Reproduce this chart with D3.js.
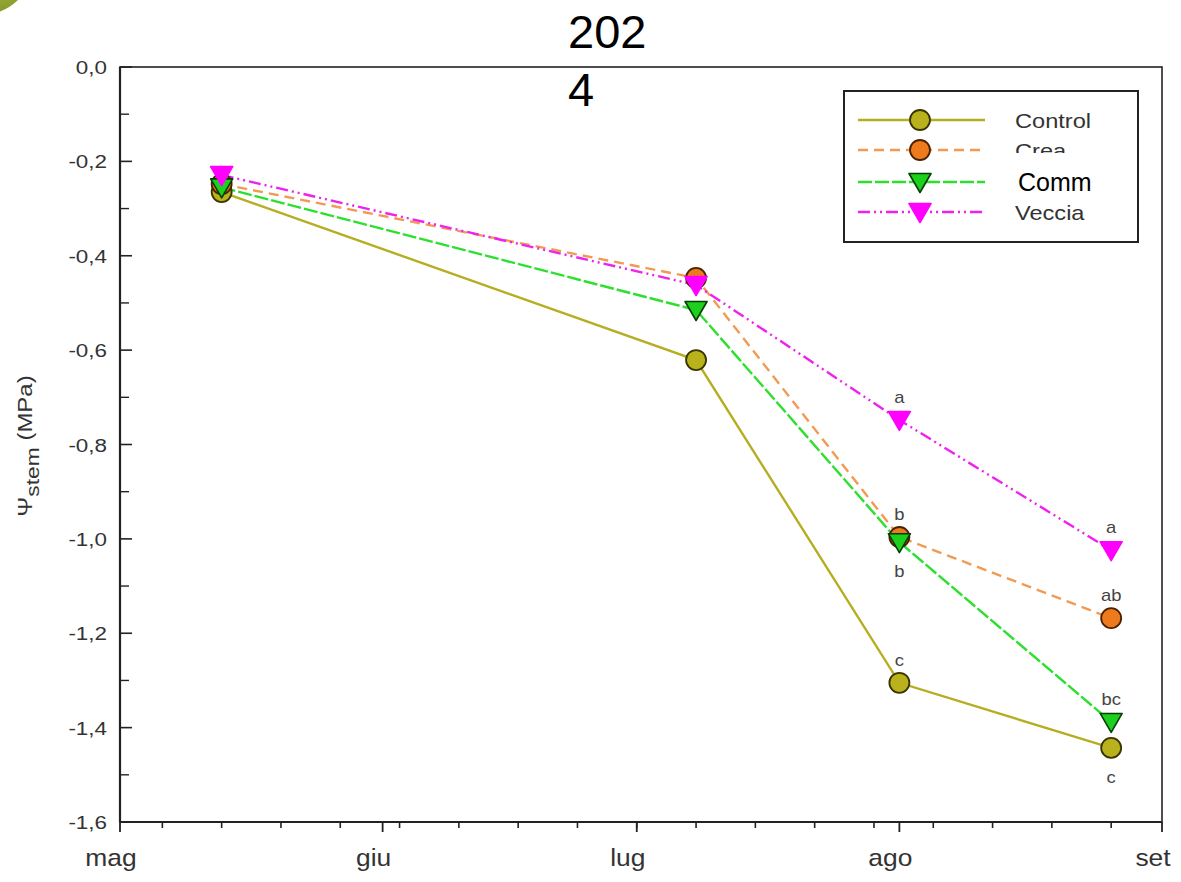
<!DOCTYPE html>
<html><head><meta charset="utf-8">
<script src="https://cdn.jsdelivr.net/npm/d3@7"></script>
<style>body{margin:0;background:#fff;}svg{display:block;font-family:"Liberation Sans",Arial,sans-serif;}</style>
</head><body>
<svg id="c" width="1181" height="882"></svg>
<script>
// ---- data ----
const dates = ["2024-05-13", "2024-07-08", "2024-08-01", "2024-08-26"];
const seriesNames = ["Control", "Crea", "Comm", "Veccia"];
const control = [-0.265, -0.621, -1.305, -1.443];
const crea    = [-0.248, -0.447, -0.996, -1.168];
const comm    = [-0.255, -0.515, -1.007, -1.388];
const veccia  = [-0.229, -0.462, -0.748, -1.024];
const controlLetters = ["", "", "c", "c"];
const creaLetters    = ["", "", "b", "ab"];
const commLetters    = ["", "", "b", "bc"];
const vecciaLetters  = ["", "", "a", "a"];
const monthLabels = ["mag", "giu", "lug", "ago", "set"];
const monthStarts = ["2024-05-01", "2024-06-01", "2024-07-01", "2024-08-01", "2024-09-01"];
const yTickValues = [0, -0.2, -0.4, -0.6, -0.8, -1.0, -1.2, -1.4, -1.6];
const titleLines = ["202", "4"];

const parse = d3.timeParse("%Y-%m-%d");
const svg = d3.select("#c");
const L = 120, R = 1162, T = 67, B = 822;
const SX = 1.2; // horizontal text stretch seen in the reference

const x = d3.scaleTime().domain([parse(monthStarts[0]), parse(monthStarts[4])]).range([L, R]);
const y = d3.scaleLinear().domain([-1.6, 0]).range([B, T]);
const fmt = v => d3.format(".1f")(v).replace(".", ",").replace("−", "-");

function stext(g, tx, ty, txt, size, anchor, fill, sx) {
  return g.append("text").attr("transform", `translate(${tx},${ty}) scale(${sx || SX},1)`)
    .attr("text-anchor", anchor || "start").attr("font-size", size).attr("fill", fill || "#333").text(txt);
}

// corner blob
const grad = svg.append("defs").append("radialGradient").attr("id", "g1").attr("cx", "70%").attr("cy", "70%");
grad.append("stop").attr("offset", "0%").attr("stop-color", "#a4b43a");
grad.append("stop").attr("offset", "100%").attr("stop-color", "#6f8420");
svg.append("circle").attr("cx", -22).attr("cy", -42).attr("r", 58).attr("fill", "url(#g1)");

// frame
svg.append("rect").attr("x", L).attr("y", T).attr("width", R - L).attr("height", B - T)
  .attr("fill", "none").attr("stroke", "#222").attr("stroke-width", 1.6);

// y axis ticks (inward)
const yMinor = d3.range(-1.5, 0, 0.2);
svg.append("g").selectAll("line").data(yTickValues).join("line")
  .attr("x1", L).attr("x2", L + 12).attr("y1", d => y(d)).attr("y2", d => y(d))
  .attr("stroke", "#222").attr("stroke-width", 1.6);
svg.append("g").selectAll("line").data(yMinor).join("line")
  .attr("x1", L).attr("x2", L + 9).attr("y1", d => y(d)).attr("y2", d => y(d))
  .attr("stroke", "#222").attr("stroke-width", 1.4);
const ytg = svg.append("g");
yTickValues.forEach(d => stext(ytg, 107, y(d) + 7, fmt(d), 19, "end", "#333", 1.18));
svg.append("line").attr("x1", L).attr("x2", L).attr("y1", T).attr("y2", B).attr("stroke", "#222").attr("stroke-width", 2.2);

// x axis ticks (outward)
const weeks = d3.timeMonday.range(parse(monthStarts[0]), parse(monthStarts[4]));
svg.append("g").selectAll("line").data(weeks).join("line")
  .attr("x1", d => x(d)).attr("x2", d => x(d)).attr("y1", B).attr("y2", B + 6)
  .attr("stroke", "#222").attr("stroke-width", 1.6);
svg.append("g").selectAll("line").data(monthStarts).join("line")
  .attr("x1", d => x(parse(d))).attr("x2", d => x(parse(d))).attr("y1", B).attr("y2", B + 10)
  .attr("stroke", "#222").attr("stroke-width", 1.8);
const xtg = svg.append("g");
monthStarts.forEach((d, i) => stext(xtg, x(parse(d)) - 9, 866, monthLabels[i], 24, "middle", "#333", 1.1));
svg.append("line").attr("x1", L).attr("x2", R).attr("y1", B).attr("y2", B).attr("stroke", "#222").attr("stroke-width", 2.2);

// y title
const yt = svg.append("text").attr("transform", "translate(32,446) rotate(-90) scale(1.2,1)")
  .attr("text-anchor", "middle").attr("font-size", 20).attr("fill", "#333");
yt.append("tspan").text("Ψ");
yt.append("tspan").attr("dy", 7).attr("font-size", 19).text("stem");
yt.append("tspan").attr("dy", -7).text(" (MPa)");

// series styles
const series = [
  {name: seriesNames[0], vals: control, letters: controlLetters, line: "#b6ae22", fill: "#b9b21c", stroke: "#3a3500", dash: null, shape: "circle"},
  {name: seriesNames[1], vals: crea, letters: creaLetters, line: "#f39a52", fill: "#ee7a1e", stroke: "#4a2200", dash: "10,6", shape: "circle"},
  {name: seriesNames[2], vals: comm, letters: commLetters, line: "#2ee02e", fill: "#1ed01e", stroke: "#073d07", dash: "14,3", shape: "tri"},
  {name: seriesNames[3], vals: veccia, letters: vecciaLetters, line: "#f020f0", fill: "#ff00ff", stroke: "#ff00ff", dash: "12,4,2,4,2,4", shape: "tri"}
];
const letterBelow = {"Comm": [false, false, true, false], "Control": [false, false, false, true]};

const lineGen = d3.line().x(d => x(d.date)).y(d => y(d.v));
series.forEach(s => {
  s.pts = s.vals.map((v, i) => ({date: parse(dates[i]), v, l: s.letters[i], i}));
  svg.append("path").datum(s.pts).attr("d", lineGen).attr("fill", "none")
    .attr("stroke", s.line).attr("stroke-width", 2.4).attr("stroke-dasharray", s.dash);
});

function marker(g, s, cx, cy) {
  if (s.shape === "circle") {
    g.append("circle").attr("cx", cx).attr("cy", cy).attr("r", 10)
      .attr("fill", s.fill).attr("stroke", s.stroke).attr("stroke-width", 1.8);
  } else {
    const w = 11, h = 9.5;
    g.append("path").attr("d", `M${cx - w},${cy - h + 1}L${cx + w},${cy - h + 1}L${cx},${cy + h + 1}Z`)
      .attr("fill", s.fill).attr("stroke", s.stroke).attr("stroke-width", 1.6).attr("stroke-linejoin", "round");
  }
}
series.forEach(s => {
  const g = svg.append("g");
  s.pts.forEach(p => marker(g, s, x(p.date), y(p.v)));
});
const lt = svg.append("g");
series.forEach(s => {
  s.pts.forEach(p => {
    if (!p.l) return;
    const below = letterBelow[s.name] && letterBelow[s.name][p.i];
    stext(lt, x(p.date), below ? y(p.v) + 35 : y(p.v) - 17, p.l, 16, "middle", "#444", 1.15);
  });
});

// legend
const lg = svg.append("g");
lg.append("rect").attr("x", 844).attr("y", 91).attr("width", 294).attr("height", 151)
  .attr("fill", "#fff").attr("stroke", "#222").attr("stroke-width", 2);
const rowsY = [120, 150, 182, 212];
series.forEach((s, i) => {
  lg.append("line").attr("x1", 858).attr("x2", 985).attr("y1", rowsY[i]).attr("y2", rowsY[i])
    .attr("stroke", s.line).attr("stroke-width", 2.4).attr("stroke-dasharray", s.dash);
  marker(lg, s, 920, rowsY[i]);
  if (s.name !== "Comm") stext(lg, 1015, rowsY[i] + 8, s.name, 20, "start", "#333", 1.18);
});
// pasted overlay covering part of "Crea"
lg.append("rect").attr("x", 1000).attr("y", 153).attr("width", 118).attr("height", 44).attr("fill", "#fff");
lg.append("text").attr("x", 1018).attr("y", 191).attr("font-size", 25).attr("fill", "#000").text(seriesNames[2]);

// title (wrapped)
svg.append("text").attr("x", 568).attr("y", 48).attr("font-size", 47).attr("fill", "#000").text(titleLines[0]);
svg.append("text").attr("x", 568).attr("y", 106).attr("font-size", 47).attr("fill", "#000").text(titleLines[1]);
</script>
</body></html>
